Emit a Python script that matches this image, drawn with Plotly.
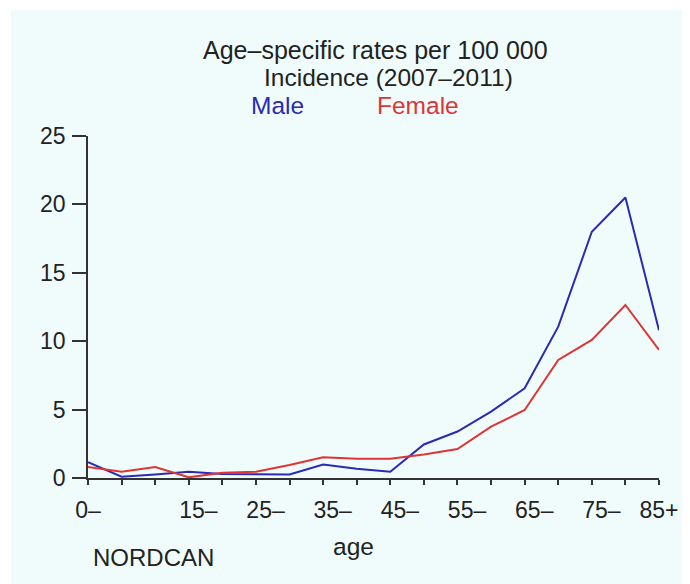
import plotly.graph_objects as go

# ---- data ----
age_groups = ["0-", "5-", "10-", "15-", "20-", "25-", "30-", "35-", "40-", "45-",
              "50-", "55-", "60-", "65-", "70-", "75-", "80-", "85+"]
male = [1.15, 0.09, 0.25, 0.45, 0.3, 0.25, 0.25, 0.98, 0.67, 0.45,
        2.45, 3.4, 4.85, 6.56, 11.06, 18.0, 20.5, 10.8]
female = [0.8, 0.45, 0.8, 0.05, 0.38, 0.45, 0.95, 1.52, 1.4, 1.4,
          1.72, 2.12, 3.75, 4.97, 8.63, 10.09, 12.65, 9.36]
x_tick_idx = [0, 3, 5, 7, 9, 11, 13, 15, 17]
x_tick_text = ["0\u2013", "15\u2013", "25\u2013", "35\u2013", "45\u2013",
               "55\u2013", "65\u2013", "75\u2013", "85+"]
y_ticks = [0, 5, 10, 15, 20, 25]

# page body has an 8px margin; positions below are in figure pixels
W, H = 690, 584
L, T = 80, 128
PR, PB = 651, 470          # right edge and bottom (y=0) of plot area
R, B = W - PR, H - PB
PW, PH = PR - L, PB - T


def px(x):
    return (x - L) / PW


def py(y):
    return (PB - y) / PH


FONT = "Liberation Sans"
BLUE = "#2A2AB2"
RED = "#DD3535"
TXT = "#222222"
PANEL = "#F0FCFC"
NB = "\u00a0"

xs = list(range(len(age_groups)))
fig = go.Figure()
fig.add_trace(go.Scatter(x=xs, y=male, mode="lines", name="Male",
                         line=dict(color=BLUE, width=2)))
fig.add_trace(go.Scatter(x=xs, y=female, mode="lines", name="Female",
                         line=dict(color=RED, width=2)))


def tick_label(i):
    if i not in x_tick_idx:
        return ""
    t = x_tick_text[x_tick_idx.index(i)]
    if i in (0, 17):
        return t
    return NB * 3 + t


fig.update_layout(
    width=W, height=H,
    margin=dict(l=L, r=R, t=T, b=B, pad=0),
    paper_bgcolor=PANEL,
    plot_bgcolor="rgba(0,0,0,0)",
    showlegend=False,
    font=dict(family=FONT, color=TXT, size=23),
)
fig.update_xaxes(
    range=[0, 17], tickmode="array", tickvals=xs,
    ticktext=[tick_label(i) for i in xs],
    showline=True, linecolor="#333333", linewidth=1.5,
    ticks="outside", ticklen=5, tickwidth=1.5, tickcolor="#333333",
    showgrid=False, zeroline=False, ticklabelstandoff=6,
    tickfont=dict(size=23, family=FONT, color=TXT),
)
fig.update_yaxes(
    range=[0, 25], tickmode="array", tickvals=y_ticks,
    showline=True, linecolor="#333333", linewidth=1.5,
    ticks="outside", ticklen=14, tickwidth=1.5, tickcolor="#333333",
    showgrid=False, zeroline=False, ticklabelstandoff=2,
    tickfont=dict(size=23, family=FONT, color=TXT),
)

# thin white frame at left and top (outside the light panel)
fig.add_shape(type="rect", xref="paper", yref="paper",
              x0=px(-5), x1=px(3), y0=py(H + 5), y1=py(-5),
              fillcolor="white", line=dict(width=0), layer="below")
fig.add_shape(type="rect", xref="paper", yref="paper",
              x0=px(-5), x1=px(W + 5), y0=py(2), y1=py(-5),
              fillcolor="white", line=dict(width=0), layer="below")

ann = [
    ("Age\u2013specific rates per 100 000", 367.5, 42, TXT, 25),
    ("Incidence (2007\u20132011)", 380, 69, TXT, 24.5),
    ("Male", 269.5, 97, BLUE, 24.5),
    ("Female", 409.5, 97, RED, 24.5),
    ("age", 345.5, 538, TXT, 24.5),
    ("NORDCAN", 145.7, 549, TXT, 24),
]
for text, x, y, c, s in ann:
    fig.add_annotation(text=text, xref="paper", yref="paper", x=px(x), y=py(y),
                       xanchor="center", yanchor="middle", showarrow=False,
                       font=dict(family=FONT, size=s, color=c))

fig.write_html("out.html")
